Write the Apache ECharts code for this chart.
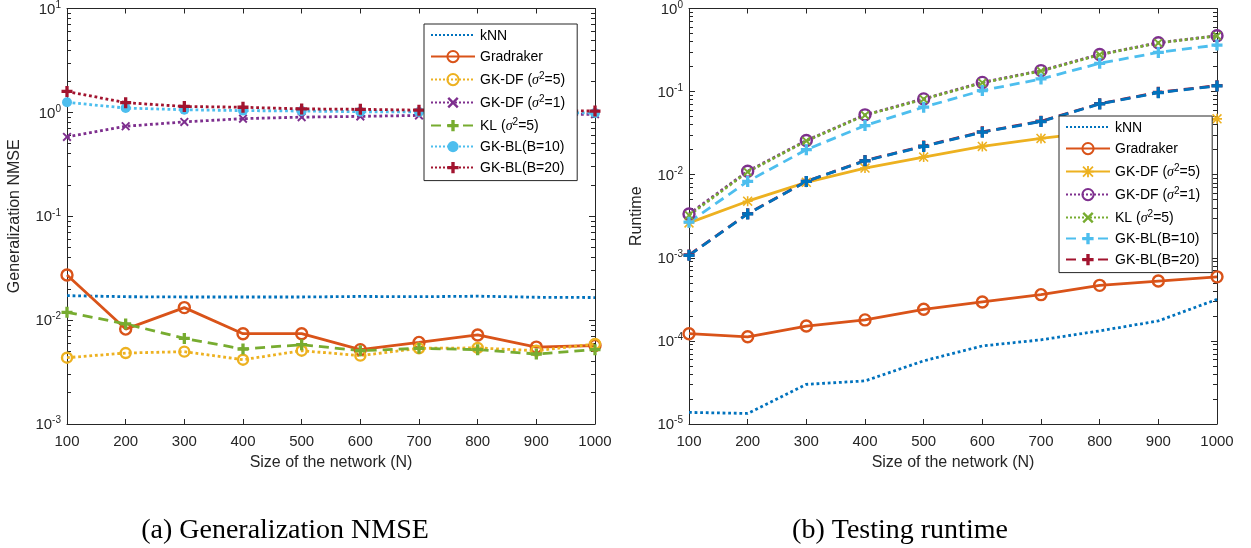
<!DOCTYPE html>
<html>
<head>
<meta charset="utf-8">
<script src="https://cdn.jsdelivr.net/npm/echarts@6/dist/echarts.min.js"></script>
<style>
html, body { margin: 0; background: #fff; }
#main { width: 1251px; height: 548px; }
</style>
</head>
<body>
<div id="main"></div>
<script>
// 网络规模 N
const sizes = [100, 200, 300, 400, 500, 600, 700, 800, 900, 1000];

// (a) Generalization NMSE
const nmseKnn = [0.0172, 0.0168, 0.0167, 0.0167, 0.0167, 0.0169, 0.0168, 0.0170, 0.0166, 0.0165];
const nmseGradraker = [0.0272, 0.0082, 0.0132, 0.0074, 0.0074, 0.0052, 0.0061, 0.0072, 0.0055, 0.0057];
const nmseGkdf5 = [0.00435, 0.00482, 0.00497, 0.00416, 0.00508, 0.00455, 0.00535, 0.0054, 0.00508, 0.00589];
const nmseGkdf1 = [0.58, 0.735, 0.81, 0.87, 0.90, 0.915, 0.935, 0.95, 0.955, 0.96];
const nmseKl5 = [0.0119, 0.0092, 0.00667, 0.00527, 0.0058, 0.00508, 0.00535, 0.0052, 0.00472, 0.0052];
const nmseBl10 = [1.25, 1.10, 1.06, 1.04, 1.03, 1.015, 1.01, 1.0, 1.0, 0.985];
const nmseBl20 = [1.59, 1.24, 1.14, 1.12, 1.08, 1.07, 1.05, 1.045, 1.04, 1.03];

// (b) Testing runtime
const timeKnn = [1.38e-5, 1.34e-5, 3.0e-5, 3.3e-5, 5.75e-5, 8.7e-5, 1.03e-4, 1.32e-4, 1.74e-4, 3.16e-4];
const timeGradraker = [1.22e-4, 1.12e-4, 1.51e-4, 1.79e-4, 2.4e-4, 2.94e-4, 3.6e-4, 4.66e-4, 5.25e-4, 5.9e-4];
const timeGkdf5 = [2.63e-3, 4.8e-3, 8.1e-3, 0.012, 0.0163, 0.0219, 0.0273, 0.033, 0.039, 0.047];
const timeGkdf1 = [3.37e-3, 0.011, 0.0258, 0.0525, 0.0817, 0.129, 0.179, 0.28, 0.387, 0.47];
const timeKl5 = [3.25e-3, 0.0108, 0.0255, 0.052, 0.081, 0.128, 0.177, 0.278, 0.385, 0.468];
const timeBl10 = [2.68e-3, 8.3e-3, 0.020, 0.039, 0.065, 0.103, 0.142, 0.219, 0.296, 0.363];
const timeBl20 = [1.08e-3, 3.4e-3, 8.3e-3, 0.0148, 0.0221, 0.0328, 0.044, 0.0715, 0.098, 0.118];
const timeExtra = [1.07e-3, 3.37e-3, 8.3e-3, 0.0147, 0.0219, 0.0325, 0.0436, 0.071, 0.097, 0.117];

const legendNames = ['kNN', 'Gradraker', 'GK-DF (σ²=5)', 'GK-DF (σ²=1)', 'KL (σ²=5)', 'GK-BL(B=10)', 'GK-BL(B=20)'];
// 右图图例名加零宽字符区分
const tag = '\u200b';

const cBlue = '#0072BD', cOrange = '#D95319', cYellow = '#EDB120', cPurple = '#7E2F8E',
      cGreen = '#77AC30', cCyan = '#4DBEEE', cRed = '#A2142F';
const axisColor = '#262626';
const font = 'Liberation Sans';
const clear = 'rgba(0,0,0,0)';

const plusPath = 'path://M3.5,0H6.5V3.5H10V6.5H6.5V10H3.5V6.5H0V3.5H3.5Z';
const crossPath = 'path://M0,1.5L1.5,0L10,8.5L8.5,10ZM8.5,0L10,1.5L1.5,10L0,8.5Z';
const starPath = 'path://M4.2,0H5.8V4.2H10V5.8H5.8V10H4.2V5.8H0V4.2H4.2ZM0,1.1L1.1,0L10,8.9L8.9,10ZM8.9,0L10,1.1L1.1,10L0,8.9Z';

function pairs(vals) {
    return sizes.map((n, i) => [n, vals[i]]);
}

// 生成折线
function line(name, vals, color, type, mark, size, gi) {
    let s = {
        type: 'line',
        name: name,
        xAxisIndex: gi * 2,
        yAxisIndex: gi * 4,
        data: pairs(vals),
        lineStyle: { color: color, width: 2.8, type: type },
        symbolSize: size,
        showSymbol: mark != null,
        symbol: 'circle',
        z: 3
    };
    if (mark == 'open') {
        s.itemStyle = { color: clear, borderColor: color, borderWidth: 2.4 };
    } else if (mark == 'dot') {
        s.itemStyle = { color: color };
    } else if (mark) {
        s.symbol = mark;
        s.itemStyle = { color: color };
    } else {
        // 无标记: 图例里也不画点
        s.itemStyle = { color: clear };
    }
    return s;
}

const series = [
    line('kNN', nmseKnn, cBlue, 'dotted', null, 0, 0),
    line('Gradraker', nmseGradraker, cOrange, 'solid', 'open', 11, 0),
    line('GK-DF (σ²=5)', nmseGkdf5, cYellow, 'dotted', 'open', 10, 0),
    line('GK-DF (σ²=1)', nmseGkdf1, cPurple, 'dotted', crossPath, 9, 0),
    line('KL (σ²=5)', nmseKl5, cGreen, [10, 6], plusPath, 11, 0),
    line('GK-BL(B=10)', nmseBl10, cCyan, 'dotted', 'dot', 10, 0),
    line('GK-BL(B=20)', nmseBl20, cRed, 'dotted', plusPath, 11, 0),

    line('kNN' + tag, timeKnn, cBlue, 'dotted', null, 0, 1),
    line('Gradraker' + tag, timeGradraker, cOrange, 'solid', 'open', 11, 1),
    line('GK-DF (σ²=5)' + tag, timeGkdf5, cYellow, 'solid', starPath, 10, 1),
    line('GK-DF (σ²=1)' + tag, timeGkdf1, cPurple, 'dotted', 'open', 11, 1),
    line('KL (σ²=5)' + tag, timeKl5, cGreen, 'dotted', crossPath, 9, 1),
    line('GK-BL(B=10)' + tag, timeBl10, cCyan, [10, 6], plusPath, 11, 1),
    line('GK-BL(B=20)' + tag, timeBl20, cRed, [10, 6], plusPath, 11, 1),
    line('extra', timeExtra, cBlue, [10, 6], plusPath, 11, 1)
];

function xAxes(gi) {
    let base = {
        type: 'value', gridIndex: gi, min: 100, max: 1000, interval: 100,
        axisLine: { onZero: false, lineStyle: { color: axisColor, width: 1 } },
        axisTick: { inside: true, length: 5, lineStyle: { color: axisColor } },
        splitLine: { show: false }
    };
    return [
        Object.assign({}, base, {
            position: 'bottom',
            axisLabel: { fontSize: 15, color: axisColor, fontFamily: font, margin: 10, formatter: v => String(v) },
            name: 'Size of the network (N)', nameLocation: 'middle', nameGap: 31,
            nameTextStyle: { fontSize: 16, color: axisColor, fontFamily: font }
        }),
        Object.assign({}, base, { position: 'top', axisLabel: { show: false } })
    ];
}

function minorTicks(lo, hi) {
    let t = [];
    for (let e = lo; e < hi; e++) {
        for (let m = 2; m <= 9; m++) t.push(e + Math.log10(m));
    }
    return t;
}

function yAxes(gi, lo, hi, name) {
    let logBase = {
        type: 'log', logBase: 10, gridIndex: gi, min: Math.pow(10, lo), max: Math.pow(10, hi),
        splitNumber: hi - lo,
        axisLine: { show: true, onZero: false, lineStyle: { color: axisColor, width: 1 } },
        axisTick: { inside: true, length: 6, lineStyle: { color: axisColor } },
        splitLine: { show: false }
    };
    let tickBase = {
        type: 'value', gridIndex: gi, min: lo, max: hi,
        axisLine: { show: false },
        axisLabel: { show: false },
        axisTick: { show: true, inside: true, length: 4, customValues: minorTicks(lo, hi), lineStyle: { color: axisColor } },
        splitLine: { show: false }
    };
    return [
        Object.assign({}, logBase, {
            position: 'left',
            axisLabel: {
                color: axisColor, margin: 6,
                formatter: function (v) {
                    return '{b|10}{s|' + Math.round(Math.log10(v)) + '}';
                },
                rich: {
                    b: { fontSize: 15, color: axisColor, fontFamily: font, verticalAlign: 'bottom', padding: [2, 0, 0, 0] },
                    s: { fontSize: 10, color: axisColor, fontFamily: font, verticalAlign: 'top' }
                }
            },
            name: name, nameLocation: 'middle', nameGap: 44,
            nameTextStyle: { fontSize: 16, color: axisColor, fontFamily: font }
        }),
        Object.assign({}, logBase, { position: 'right', axisLabel: { show: false } }),
        Object.assign({}, tickBase, { position: 'left' }),
        Object.assign({}, tickBase, { position: 'right' })
    ];
}

function legend(left, top, names) {
    return {
        data: names, left: left, top: top, orient: 'vertical',
        selectedMode: false,
        itemWidth: 44, itemHeight: 14, itemGap: 7,
        padding: [5, 12, 5, 6],
        borderColor: axisColor, borderWidth: 1, borderRadius: 0,
        backgroundColor: '#fff',
        formatter: function (n) {
            n = n.replace(/\u200b/g, '');
            return '{t|' + n.replace('σ²', '}{i|σ}{s|2}{t|') + '}';
        },
        textStyle: {
            fontSize: 14, color: '#000', fontFamily: font,
            rich: {
                t: { fontSize: 14, color: '#000', fontFamily: font, verticalAlign: 'bottom', padding: [2, 0, 0, 0] },
                i: { fontSize: 14, color: '#000', fontFamily: 'Liberation Serif', fontStyle: 'italic', verticalAlign: 'bottom', padding: [2, 0, 0, 0] },
                s: { fontSize: 10, color: '#000', fontFamily: font, verticalAlign: 'top' }
            }
        }
    };
}

let myChart = echarts.init(document.getElementById('main'));
let option = {
    animation: false,
    backgroundColor: '#fff',
    grid: [
        { left: 67, top: 8, width: 528, height: 416 },
        { left: 689, top: 8, width: 528, height: 416 }
    ],
    xAxis: xAxes(0).concat(xAxes(1)),
    yAxis: yAxes(0, -3, 1, 'Generalization NMSE').concat(yAxes(1, -5, 0, 'Runtime')),
    legend: [
        legend(424, 24, legendNames),
        legend(1059, 116, legendNames.map(n => n + tag))
    ],
    graphic: [
        { type: 'text', x: 285, y: 531, style: { text: '(a) Generalization NMSE', font: '28px "Liberation Serif"', fill: '#000', align: 'center', verticalAlign: 'middle' } },
        { type: 'text', x: 900, y: 531, style: { text: '(b) Testing runtime', font: '28px "Liberation Serif"', fill: '#000', align: 'center', verticalAlign: 'middle' } }
    ],
    series: series
};
myChart.setOption(option);
</script>
</body>
</html>
